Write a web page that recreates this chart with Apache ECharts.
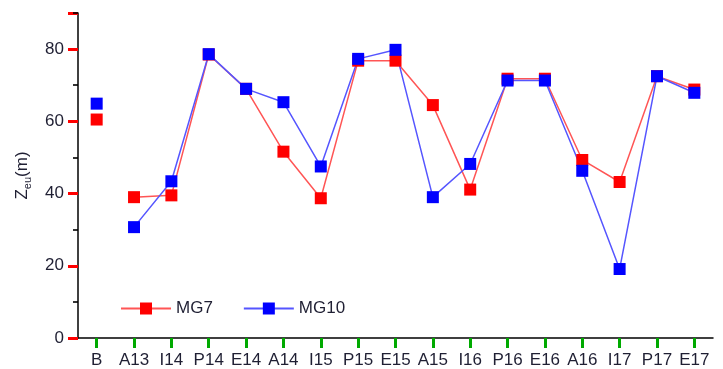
<!DOCTYPE html>
<html>
<head>
<meta charset="utf-8">
<script src="https://cdn.jsdelivr.net/npm/echarts@6/dist/echarts.min.js"></script>
<style>html,body{margin:0;padding:0;background:#fff}#c{width:723px;height:369px}</style>
</head>
<body>
<div id="c"></div>
<script>
const categories = ['B','A13','I14','P14','E14','A14','I15','P15','E15','A15','I16','P16','E16','A16','I17','P17','E17'];
const mg7  = [60.5, 39.0, 39.5, 78.5, 69.0, 51.6, 38.7, 76.8, 76.8, 64.5, 41.1, 71.8, 71.8, 49.3, 43.2, 72.5, 68.8];
const mg10 = [64.9, 30.7, 43.4, 78.6, 69.0, 65.3, 47.5, 77.3, 79.8, 39.0, 48.2, 71.3, 71.3, 46.3, 19.1, 72.5, 67.9];
const majorTicks = [0, 20, 40, 60, 80];
const minorTicks = [10, 30, 50, 70, 90];

const lineData = arr => arr.map((v, i) => i === 0 ? '-' : v);
const font = 'Liberation Sans, Arial, sans-serif';
const txt = '#1f1f33';

const chart = echarts.init(document.getElementById('c'), null, {renderer: 'canvas'});
chart.setOption({
  animation: false,
  backgroundColor: '#fff',
  grid: {left: 78, right: 10, top: 13, bottom: 28},
  legend: {
    data: ['MG7', 'MG10'],
    left: 120, top: 300, padding: 0,
    itemWidth: 50, itemHeight: 15, itemGap: 30,
    textStyle: {fontFamily: font, fontSize: 17, color: txt}
  },
  xAxis: {
    type: 'category',
    data: categories,
    axisLine: {show: true, lineStyle: {color: '#000', width: 1.5}},
    axisTick: {show: true, interval: 0, length: 10, alignWithLabel: true, lineStyle: {color: '#00aa00', width: 3}},
    axisLabel: {interval: 0, margin: 14, fontFamily: font, fontSize: 17, color: txt},
    splitLine: {show: false}
  },
  yAxis: [{
    type: 'value', min: 0, max: 90, interval: 20,
    name: '{a|Z}{b|eu}{a|(m)}',
    nameLocation: 'middle', nameGap: 45, nameRotate: 90,
    nameTextStyle: {rich: {
      a: {fontFamily: font, fontSize: 17, color: txt},
      b: {fontFamily: font, fontSize: 11, color: txt, verticalAlign: 'bottom', padding: [10, 0, 0, 0]}
    }},
    axisLine: {show: true, lineStyle: {color: '#000', width: 1.5}},
    axisTick: {show: true, length: 10, lineStyle: {color: '#ff0000', width: 3}},
    axisLabel: {customValues: majorTicks, margin: 14, fontFamily: font, fontSize: 17, color: txt},
    splitLine: {show: false}
  }, {
    type: 'value', min: 0, max: 90, position: 'left',
    axisLine: {show: false},
    axisTick: {show: true, length: 5, customValues: minorTicks, lineStyle: {color: '#000', width: 1.6}},
    axisLabel: {show: false},
    splitLine: {show: false}
  }],
  series: [{
    name: 'MG7', type: 'line', data: lineData(mg7),
    symbol: 'rect', symbolSize: 12,
    itemStyle: {color: '#ff0000'},
    lineStyle: {color: '#ff5555', width: 1.5},
    connectNulls: false
  }, {
    name: 'MG10', type: 'line', data: lineData(mg10),
    symbol: 'rect', symbolSize: 12,
    itemStyle: {color: '#0000ff'},
    lineStyle: {color: '#5555ff', width: 1.5},
    connectNulls: false
  }, {
    name: 'MG7-B', type: 'scatter', data: [[categories[0], mg7[0]]],
    symbol: 'rect', symbolSize: 12, itemStyle: {color: '#ff0000', opacity: 1}
  }, {
    name: 'MG10-B', type: 'scatter', data: [[categories[0], mg10[0]]],
    symbol: 'rect', symbolSize: 12, itemStyle: {color: '#0000ff', opacity: 1}
  }]
});
</script>
</body>
</html>
